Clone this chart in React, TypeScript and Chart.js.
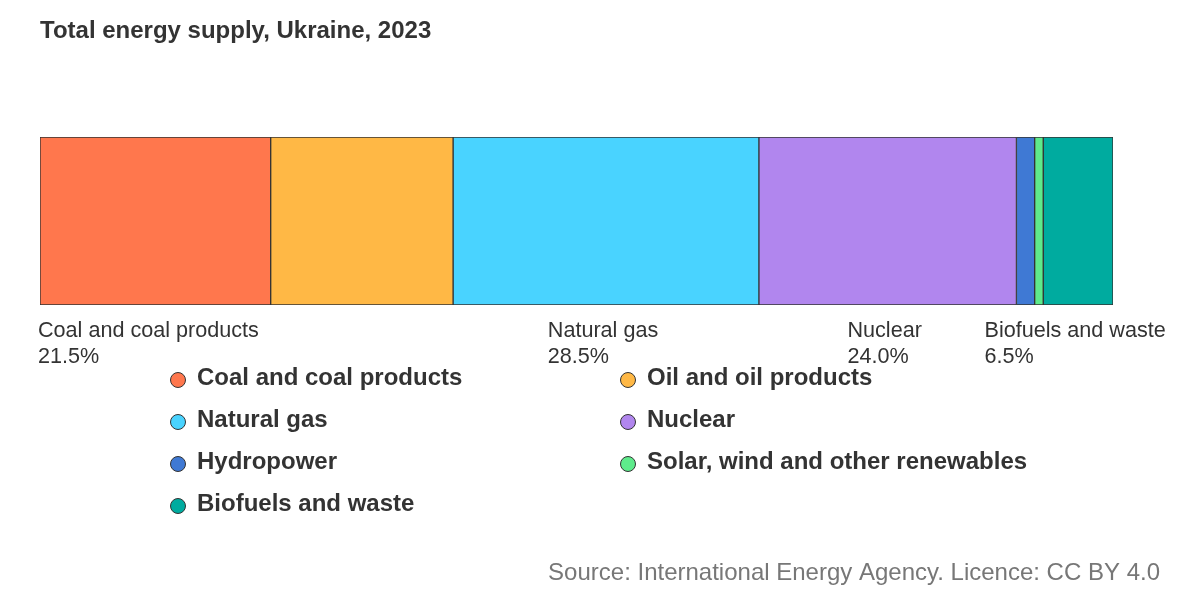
import React, { useEffect, useRef } from "react";
import { Chart, registerables } from "chart.js";

Chart.register(...registerables);

// Shares of total energy supply (%)
const categories = [
  "Coal and coal products",
  "Oil and oil products",
  "Natural gas",
  "Nuclear",
  "Hydropower",
  "Solar, wind and other renewables",
  "Biofuels and waste",
];
const shares = [21.5, 17.0, 28.5, 24.0, 1.7, 0.8, 6.5];
const colors = ["#ff774d", "#ffb845", "#49d3ff", "#b186ee", "#3f79d4", "#5eeb8b", "#00ab9f"];
// segments that get a label under the bar
const labelled = ["Coal and coal products", "Natural gas", "Nuclear", "Biofuels and waste"];

const title = "Total energy supply, Ukraine, 2023";
const source = "Source: International Energy Agency. Licence: CC BY 4.0";

const FONT = "'Liberation Sans', Arial, sans-serif";

const decorations = {
  id: "decorations",
  afterDraw(chart: Chart) {
    const ctx = chart.ctx;
    ctx.save();
    ctx.textBaseline = "middle";
    ctx.textAlign = "left";

    // title
    ctx.fillStyle = "#333333";
    ctx.font = `bold 24px ${FONT}`;
    ctx.fillText(title, 40, 31);

    // segment labels below the bar
    ctx.font = `21.6px ${FONT}`;
    chart.data.datasets.forEach((ds, i) => {
      if (!labelled.includes(ds.label as string)) return;
      const el: any = chart.getDatasetMeta(i).data[0];
      if (!el) return;
      const left = Math.min(el.x, el.base);
      const right = Math.max(el.x, el.base);
      const lines = [ds.label as string, `${(ds.data[0] as number).toFixed(1)}%`];
      const w = Math.max(...lines.map((l) => ctx.measureText(l).width));
      let x = (left + right) / 2 - w / 2 - 3;
      if (x < 45) x = 38;
      ctx.fillStyle = "#333333";
      lines.forEach((l, k) => ctx.fillText(l, x, 331 + k * 26));
    });

    // legend, two columns
    ctx.font = `bold 24px ${FONT}`;
    categories.forEach((c, i) => {
      const col = i % 2;
      const row = Math.floor(i / 2);
      const cx = 178 + col * 450;
      const cy = 380 + row * 42;
      ctx.beginPath();
      ctx.arc(cx, cy, 7.5, 0, Math.PI * 2);
      ctx.fillStyle = colors[i];
      ctx.fill();
      ctx.lineWidth = 1;
      ctx.strokeStyle = "#333333";
      ctx.stroke();
      ctx.fillStyle = "#333333";
      ctx.fillText(c, cx + 19, cy - 2);
    });

    // source
    ctx.font = `24px ${FONT}`;
    ctx.fillStyle = "#777777";
    ctx.textAlign = "right";
    ctx.fillText(source, 1160, 573);
    ctx.restore();
  },
};

function EnergyBar() {
  const canvasRef = useRef<HTMLCanvasElement | null>(null);
  const chartRef = useRef<Chart | null>(null);

  useEffect(() => {
    if (!canvasRef.current) return;
    const ctx = canvasRef.current.getContext("2d");
    if (!ctx) return;
    if (chartRef.current) chartRef.current.destroy();

    chartRef.current = new Chart(ctx, {
      type: "bar",
      data: {
        labels: ["2023"],
        datasets: categories.map((c, i) => ({
          label: c,
          data: [shares[i]],
          backgroundColor: colors[i],
          borderColor: "#333333",
          borderWidth: 1,
          borderSkipped: false,
          barPercentage: 1,
          categoryPercentage: 1,
        })),
      },
      options: {
        indexAxis: "y",
        responsive: true,
        maintainAspectRatio: false,
        animation: false,
        layout: { padding: { left: 40, right: 87, top: 137, bottom: 295 } },
        plugins: {
          legend: { display: false },
          title: { display: false },
          tooltip: { enabled: false },
        },
        scales: {
          x: { stacked: true, min: 0, max: 100, display: false },
          y: { stacked: true, display: false },
        },
      },
      plugins: [decorations],
    });

    return () => {
      if (chartRef.current) {
        chartRef.current.destroy();
        chartRef.current = null;
      }
    };
  }, []);

  return <canvas ref={canvasRef} />;
}

export default function App() {
  return (
    <div
      style={{
        position: "absolute",
        left: 0,
        top: 0,
        width: 1200,
        height: 600,
        background: "#ffffff",
      }}
    >
      <EnergyBar />
    </div>
  );
}
